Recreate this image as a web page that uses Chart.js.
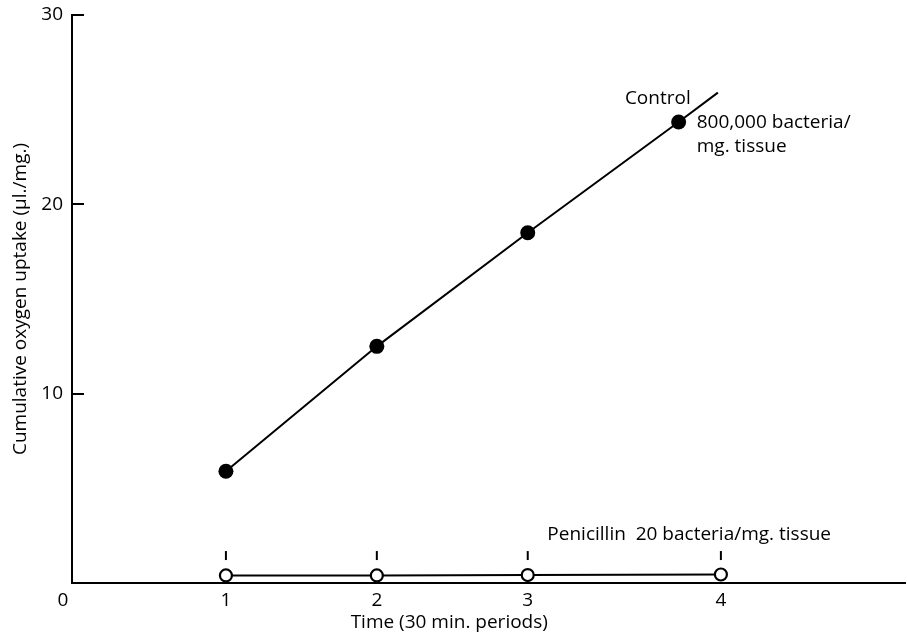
<!DOCTYPE html>
<html><head><meta charset="utf-8">
<script src="https://cdn.jsdelivr.net/npm/chart.js@4.4.1/dist/chart.umd.min.js"></script>
<style>html,body{margin:0;padding:0;background:#fff;overflow:hidden}canvas{display:block}</style>
</head><body><canvas id="c" width="907" height="637"></canvas>
<script>
// Data
const controlX = [1, 2, 3, 4];
const controlY = [5.9, 12.5, 18.5, 24.35];
const controlLineEndX = [4, 4.26];
const controlLineEndY = [24.35, 25.9];
const penicillinX = [1, 2, 3, 4.28];
const penicillinY = [0.4, 0.4, 0.42, 0.45];
const penicillinMarkY = [1.45, 1.45, 1.45, 1.45];
const xTickValues = [1, 2, 3, 4.28];
const xTickLabels = ['1', '2', '3', '4'];
const yTickValues = [10, 20, 30];
const yTickLabels = ['10', '20', '30'];
const xTitle = 'Time (30 min. periods)';
const yTitle = 'Cumulative oxygen uptake (µl./mg.)';

const FONT = '"Open Sans", Lato, sans-serif';
const FS = 19;
const toPts = (xs, ys) => xs.map((x, i) => ({x: x, y: ys[i]}));

const extrasPlugin = {
  id: 'extras',
  afterDatasetsDraw(chart) {
    const ctx = chart.ctx;
    const xs = chart.scales.x, ys = chart.scales.y;
    const area = chart.chartArea;
    ctx.save();
    // inward y ticks
    ctx.strokeStyle = '#000';
    ctx.lineWidth = 2;
    yTickValues.forEach(v => {
      const py = Math.round(ys.getPixelForValue(v));
      ctx.beginPath();
      ctx.moveTo(area.left, py);
      ctx.lineTo(area.left + 12, py);
      ctx.stroke();
    });
    ctx.fillStyle = '#000';
    ctx.font = '500 ' + FS + 'px ' + FONT;
    ctx.textBaseline = 'middle';
    // origin label
    ctx.textAlign = 'center';
    ctx.fillText('0', xs.getPixelForValue(-0.08), ys.bottom + 18);
    // x axis title
    ctx.fillText(xTitle, xs.getPixelForValue(2.48), ys.bottom + 40);
    // Control annotations
    ctx.textAlign = 'right';
    ctx.fillText('Control', xs.getPixelForValue(4.08), ys.getPixelForValue(25.57));
    ctx.textAlign = 'left';
    ctx.fillText('800,000 bacteria/', xs.getPixelForValue(4.12), ys.getPixelForValue(24.3));
    ctx.fillText('mg. tissue', xs.getPixelForValue(4.12), ys.getPixelForValue(23.03));
    ctx.fillText('Penicillin  20 bacteria/mg. tissue', xs.getPixelForValue(3.13), ys.getPixelForValue(2.56));
    ctx.restore();
  }
};

new Chart(document.getElementById('c'), {
  type: 'scatter',
  data: {
    datasets: [
      {
        label: 'Control fit end',
        data: toPts(controlLineEndX, controlLineEndY),
        showLine: true, borderColor: '#000', borderWidth: 2,
        pointRadius: 0, fill: false
      },
      {
        label: 'Control',
        data: toPts(controlX, controlY),
        showLine: true, borderColor: '#000', borderWidth: 2,
        pointRadius: 7.5, pointBackgroundColor: '#000', pointBorderColor: '#000',
        pointBorderWidth: 0, fill: false
      },
      {
        label: 'Penicillin marks',
        data: toPts(penicillinX, penicillinMarkY),
        showLine: false, pointStyle: 'line', rotation: 90,
        pointRadius: 4.5, pointBorderColor: '#000', pointBorderWidth: 2
      },
      {
        label: 'Penicillin',
        data: toPts(penicillinX, penicillinY),
        showLine: true, borderColor: '#000', borderWidth: 2,
        pointRadius: 6, pointBackgroundColor: '#fff', pointBorderColor: '#000',
        pointBorderWidth: 2.2, fill: false
      }
    ]
  },
  options: {
    responsive: false,
    animation: false,
    layout: {autoPadding: false, padding: {top: 15, right: 2, left: 0, bottom: 0}},
    plugins: {legend: {display: false}, tooltip: {enabled: false}},
    scales: {
      x: {
        type: 'linear', min: -0.02, max: 5.5,
        grid: {display: false, drawTicks: false},
        border: {display: true, color: '#000', width: 2},
        afterBuildTicks: s => { s.ticks = xTickValues.map(v => ({value: v})); },
        afterFit: s => { s.height = 54; s.paddingLeft = 0; s.paddingRight = 0; },
        ticks: {
          autoSkip: false, maxRotation: 0, padding: 6, color: '#000',
          font: {family: FONT, size: FS, weight: 500},
          callback: (v, i) => xTickLabels[i]
        }
      },
      y: {
        type: 'linear', min: 0, max: 30,
        grid: {display: false, drawTicks: false},
        border: {display: true, color: '#000', width: 2},
        afterBuildTicks: s => { s.ticks = yTickValues.map(v => ({value: v})); },
        afterFit: s => { s.width = 72; s.paddingTop = 0; s.paddingBottom = 0; },
        ticks: {
          padding: 9, color: '#000',
          font: {family: FONT, size: FS, weight: 500},
          callback: (v, i) => yTickLabels[i]
        },
        title: {
          display: true, text: yTitle, color: '#000',
          font: {family: FONT, size: FS, weight: 500}, padding: {top: 9, bottom: 0}
        }
      }
    }
  },
  plugins: [extrasPlugin]
});
</script>
</body></html>
